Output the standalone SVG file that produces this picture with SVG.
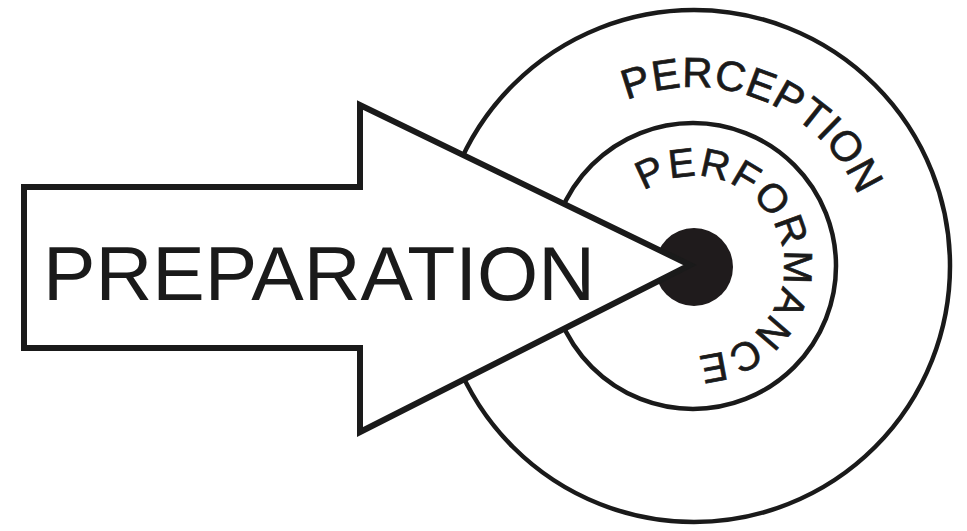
<svg xmlns="http://www.w3.org/2000/svg" width="967" height="531" viewBox="0 0 967 531">
  <style>
    .ring { fill: #ffffff; stroke: #1a1a1a; stroke-width: 4.5; }
    .lbl { font-family: "Liberation Sans", Arial, sans-serif; fill: #1a1a1a; }
    .curve1 { font-family: "Liberation Sans", Arial, sans-serif; fill: #1a1a1a; stroke: #1a1a1a; stroke-width: 0.7; font-size: 42px; letter-spacing: 0.5px; }
    .curve2 { font-family: "Liberation Sans", Arial, sans-serif; fill: #1a1a1a; stroke: #1a1a1a; stroke-width: 0.7; font-size: 40px; letter-spacing: 2px; }
    .arrow { fill: #ffffff; stroke: #1a1a1a; stroke-width: 6; stroke-linejoin: miter; }
  </style>
  <defs>
    <path id="outerPath" d="M 515,266 A 179,179 0 0 1 873,266 A 179,179 0 0 1 515,266"/>
    <path id="innerPath" d="M 604,266 A 90,90 0 0 1 784,266 A 90,90 0 0 1 604,266"/>
  </defs>
  <rect width="967" height="531" fill="#ffffff"/>
  <g id="perception">
    <circle class="ring" cx="694" cy="266" r="256"/>
    <text class="curve1"><textPath href="#outerPath" startOffset="212">PERCEPTION</textPath></text>
  </g>
  <g id="performance">
    <circle class="ring" cx="693" cy="266" r="143"/>
    <text class="curve2"><textPath href="#innerPath" startOffset="88">PERFORMANCE</textPath></text>
  </g>
  <g id="target">
    <circle cx="694" cy="267" r="39" fill="#1f1b1c"/>
  </g>
  <g id="preparation">
    <polygon class="arrow" points="24,187 360,187 360,105 690,265 360,432 360,348 24,348"/>
    <text class="lbl" x="43" y="300" font-size="76" textLength="552" lengthAdjust="spacingAndGlyphs">PREPARATION</text>
  </g>
  <g id="connectors"/>
</svg>
